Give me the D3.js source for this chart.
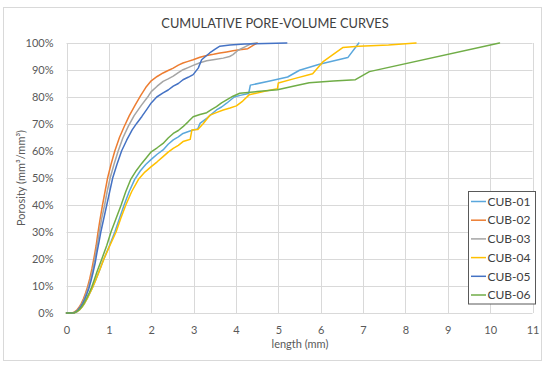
<!DOCTYPE html>
<html><head><meta charset="utf-8">
<script src="https://cdn.jsdelivr.net/npm/d3@7"></script>
<style>
html,body{margin:0;padding:0;background:#fff;}
text{font-family:Lato,"Open Sans",sans-serif;}
</style></head>
<body><svg id="c" width="550" height="368"></svg>
<script>
const title = "CUMULATIVE PORE-VOLUME CURVES";
const xTitle = "length (mm)";
const yTitle = "Porosity (mm³/mm³)";
const xTicks = [0,1,2,3,4,5,6,7,8,9,10,11];
const yTicks = [0,10,20,30,40,50,60,70,80,90,100];
const seriesNames = ["CUB-01","CUB-02","CUB-03","CUB-04","CUB-05","CUB-06"];
const seriesColors = ["#5aa7dc","#ed7d31","#a5a5a5","#ffc000","#4472c4","#70ad47"];

// [length mm, porosity %]
const cub01 = [[0,0],[0.1,0],[0.19,0.1],[0.25,0.5],[0.31,1.2],[0.37,2.3],[0.43,3.7],[0.49,5.4],[0.55,7.3],[0.61,9.3],[0.67,11.5],[0.73,13.8],[0.79,16.2],[0.85,18.7],[0.89,20.3],[1.02,25.2],[1.14,30],[1.25,35],[1.36,40],[1.48,45],[1.61,49.5],[1.74,52.6],[1.87,55],[2.0,56.9],[2.14,58.8],[2.28,60.4],[2.4,62.5],[2.52,64.1],[2.64,65.2],[2.75,66.5],[2.88,67.2],[2.99,67.8],[3.1,68.2],[3.15,70.2],[3.31,72.1],[3.42,73.6],[3.54,75.2],[3.66,76.3],[3.78,77.7],[3.96,80],[4.1,80.6],[4.3,81.3],[4.34,84.4],[4.8,85.9],[5.22,87.4],[5.5,89.9],[5.97,92.1],[6.64,94.6],[6.9,100]];
const cub02 = [[0,0],[0.1,0],[0.15,0.1],[0.2,0.5],[0.25,1.2],[0.3,2.2],[0.35,3.6],[0.4,5.3],[0.45,7.4],[0.5,9.8],[0.55,12.8],[0.6,16.4],[0.65,20.5],[0.7,25],[0.74,29.5],[0.79,34.5],[0.85,40],[0.91,45],[0.97,50],[1.05,55],[1.14,60],[1.25,65],[1.36,69],[1.48,73],[1.62,77],[1.75,80.5],[1.87,83.5],[2.0,86],[2.14,87.6],[2.28,88.9],[2.4,89.8],[2.52,90.7],[2.64,91.8],[2.75,92.6],[2.87,93.2],[2.99,93.8],[3.15,94.7],[3.31,95.4],[3.47,95.8],[3.62,96.3],[3.78,96.7],[3.93,97.1],[4.09,97.5],[4.28,97.9],[4.5,100]];
const cub03 = [[0,0],[0.1,0],[0.17,0.1],[0.22,0.5],[0.27,1.2],[0.32,2.2],[0.37,3.6],[0.42,5.3],[0.47,7.4],[0.52,9.7],[0.57,12.6],[0.62,16],[0.67,20.2],[0.72,24.8],[0.77,29.5],[0.83,35],[0.9,40],[0.96,45],[1.03,50],[1.12,55],[1.22,60],[1.33,64.8],[1.46,69.2],[1.6,73.2],[1.77,77],[1.93,80.3],[2.0,82],[2.14,84],[2.28,85.8],[2.4,86.7],[2.52,87.7],[2.64,89],[2.75,90.1],[2.87,90.9],[2.99,91.7],[3.15,92.7],[3.31,93.4],[3.5,93.9],[3.7,94.4],[3.85,95],[3.93,95.7],[4.05,97.3],[4.2,98.5],[4.35,99.7],[4.48,100]];
const cub04 = [[0,0],[0.1,0],[0.19,0.1],[0.25,0.5],[0.31,1.2],[0.37,2.3],[0.43,3.7],[0.49,5.4],[0.55,7.3],[0.61,9.3],[0.67,11.5],[0.73,13.8],[0.79,16.2],[0.85,18.7],[0.89,20.3],[1.03,25.2],[1.17,30],[1.28,35],[1.4,40],[1.54,45],[1.7,49.5],[1.85,52.2],[2.0,54.2],[2.14,56],[2.28,57.9],[2.4,59.6],[2.52,61],[2.64,62.1],[2.75,63.5],[2.85,64],[2.92,64.3],[2.96,67.8],[3.1,68],[3.23,70.2],[3.39,73.3],[3.55,74.3],[3.7,75.2],[3.86,75.9],[4.01,76.7],[4.16,78.5],[4.31,80.8],[4.65,82],[4.98,83.1],[5.0,85.2],[5.4,86.9],[5.81,88.6],[6.05,93],[6.28,95.6],[6.52,98.3],[6.9,98.8],[7.6,99.3],[8.25,100]];
const cub05 = [[0,0],[0.1,0],[0.18,0.1],[0.23,0.5],[0.28,1.2],[0.33,2.2],[0.38,3.5],[0.43,5.1],[0.48,7],[0.53,9.2],[0.58,12],[0.63,15.2],[0.68,18.8],[0.72,22.5],[0.77,26.5],[0.81,30],[0.88,35],[0.95,40],[1.02,45],[1.09,50],[1.19,55],[1.3,60],[1.42,64],[1.55,67.8],[1.66,70.3],[1.78,72.8],[1.9,75.5],[2.0,77.8],[2.13,80],[2.28,81.5],[2.4,82.6],[2.52,84],[2.64,85],[2.75,86.4],[2.87,87.3],[2.99,88.3],[3.11,90.7],[3.19,93.8],[3.28,95],[3.38,96.3],[3.5,97.6],[3.62,98.8],[3.86,99.3],[4.2,99.6],[4.7,99.8],[5.2,100]];
const cub06 = [[0,0],[0.1,0],[0.18,0.1],[0.24,0.5],[0.3,1.2],[0.36,2.3],[0.42,3.8],[0.48,5.6],[0.54,7.6],[0.6,9.8],[0.66,12.5],[0.72,15.3],[0.78,17.8],[0.84,20.3],[0.95,25],[1.05,30],[1.17,35],[1.29,40],[1.4,45],[1.52,49.6],[1.65,52.8],[1.78,55.5],[1.9,57.8],[2.0,59.7],[2.14,61.2],[2.28,62.8],[2.4,64.8],[2.52,66.5],[2.64,67.6],[2.75,69],[2.87,70.8],[2.99,72.7],[3.15,73.5],[3.31,74.2],[3.42,75.3],[3.54,76.4],[3.66,77.8],[3.78,78.9],[3.93,80.3],[4.09,81.4],[4.5,82],[4.98,82.7],[5.35,84],[5.73,85.3],[6.3,85.9],[6.82,86.4],[7.15,89.4],[10.22,100]];
const seriesData = [cub01, cub02, cub03, cub04, cub05, cub06];

const svg = d3.select("#c");
const L = 66.5, R = 532.5, T = 43, B = 313;
const x = d3.scaleLinear().domain([0, 11]).range([L, R]);
const y = d3.scaleLinear().domain([0, 100]).range([B, T]);

// outer chart border
svg.append("rect").attr("x", 3.5).attr("y", 7.5).attr("width", 538).attr("height", 353)
  .attr("fill", "#fff").attr("stroke", "#d9d9d9").attr("stroke-width", 1);

// gridlines
const g = svg.append("g");
g.selectAll(".hg").data(yTicks).enter().append("line")
  .attr("x1", L).attr("x2", R)
  .attr("y1", d => Math.round(y(d)) + 0.5).attr("y2", d => Math.round(y(d)) + 0.5)
  .attr("stroke", "#d9d9d9").attr("stroke-width", 1);
g.selectAll(".vg").data(xTicks).enter().append("line")
  .attr("y1", T).attr("y2", B)
  .attr("x1", d => Math.round(x(d)) + 0.5).attr("x2", d => Math.round(x(d)) + 0.5)
  .attr("stroke", "#d9d9d9").attr("stroke-width", 1);

// axes labels via d3 axes
const yAxis = svg.append("g").attr("transform", `translate(${L - 10},0)`)
  .call(d3.axisLeft(y).tickValues(yTicks).tickFormat(d => d + "%").tickSize(0));
const xAxis = svg.append("g").attr("transform", `translate(0,${B + 10})`)
  .call(d3.axisBottom(x).tickValues(xTicks).tickFormat(d3.format("d")).tickSize(0));
[yAxis, xAxis].forEach(a => {
  a.select(".domain").remove();
  a.selectAll("text").attr("font-family", "Lato, sans-serif").attr("font-size", 11).attr("fill", "#595959");
});

// series lines
const line = d3.line().x(d => x(d[0])).y(d => y(d[1])).curve(d3.curveLinear);
svg.append("g").selectAll("path").data(seriesData).enter().append("path")
  .attr("d", line).attr("fill", "none")
  .attr("stroke", (d, i) => seriesColors[i]).attr("stroke-width", 1.5)
  .attr("stroke-linejoin", "round").attr("stroke-linecap", "round");

// title
svg.append("text").attr("x", 275).attr("y", 28).attr("text-anchor", "middle")
  .attr("font-size", 12.8).attr("fill", "#404040").text(title);
// axis titles
svg.append("text").attr("x", 300).attr("y", 348).attr("text-anchor", "middle")
  .attr("font-size", 11).attr("fill", "#595959").text(xTitle);
svg.append("text").attr("transform", "translate(25,178) rotate(-90)").attr("text-anchor", "middle")
  .attr("font-size", 11).attr("fill", "#595959").text(yTitle);

// legend
const lg = svg.append("g");
lg.append("rect").attr("x", 468.5).attr("y", 191.5).attr("width", 67).attr("height", 112.5)
  .attr("fill", "#fff").attr("stroke", "#595959").attr("stroke-width", 1);
const items = lg.selectAll(".li").data(seriesNames).enter().append("g")
  .attr("transform", (d, i) => `translate(0,${201.5 + i * 18.7})`);
items.append("line").attr("x1", 471).attr("x2", 486).attr("y1", 0).attr("y2", 0)
  .attr("stroke", (d, i) => seriesColors[i]).attr("stroke-width", 1.5);
items.append("text").attr("x", 487.5).attr("y", 4.2).attr("font-size", 12)
  .attr("fill", "#404040").text(d => d);
</script></body></html>
